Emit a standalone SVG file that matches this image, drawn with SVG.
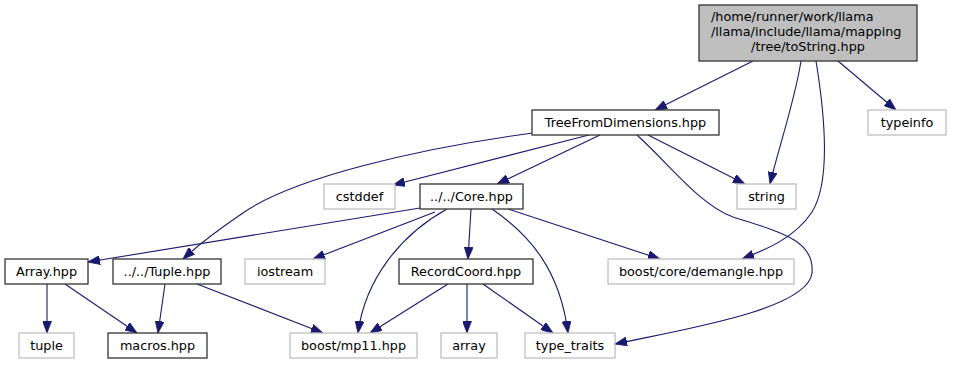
<svg xmlns="http://www.w3.org/2000/svg" width="953" height="365" viewBox="0 0 953 365">
  <style>
    .node rect { fill: #ffffff; stroke: #333333; stroke-width: 1.3; }
    .node.ext rect { stroke: #bfbfbf; }
    .node.root rect { fill: #bfbfbf; stroke: #333333; }
    text { font-family: "DejaVu Sans", "Liberation Sans", sans-serif; font-size: 12.8px; fill: #000000; text-anchor: middle; }
    .edges path { fill: none; stroke: #191970; stroke-width: 1.1; marker-end: url(#arrow); }
  </style>
  <defs>
    <marker id="arrow" markerUnits="userSpaceOnUse" markerWidth="12" markerHeight="9" refX="12" refY="4.5" orient="auto">
      <path d="M0,0 L12,4.5 L0,9 z" fill="#191970" stroke="#191970" stroke-width="0.8"/>
    </marker>
  </defs>
  <rect width="953" height="365" fill="#ffffff"/>

  <g class="edges">
    <path d="M753,61 L655,110"/>
    <path d="M801,61 C795,100 778,150 770,184"/>
    <path d="M816,61 C824,110 832,180 812,212 C795,238 765,250 742,259"/>
    <path d="M838,61 L896,110"/>
    <path d="M533,133 C420,148 290,178 240,215 C215,232 195,248 183,259"/>
    <path d="M589,135 L393,185"/>
    <path d="M600,135 L497,184"/>
    <path d="M648,135 L745,184"/>
    <path d="M637,135 C670,165 700,205 733,217 C780,232 815,240 812,273 C808,310 680,330 615,344"/>
    <path d="M420,208 L88,262"/>
    <path d="M435,212 L313,259"/>
    <path d="M447,209 C400,235 365,280 358,333"/>
    <path d="M471,209 L468,259"/>
    <path d="M492,209 C530,235 560,270 568,333"/>
    <path d="M508,209 L660,259"/>
    <path d="M448,284 L370,333"/>
    <path d="M467,284 L467,333"/>
    <path d="M483,284 L553,333"/>
    <path d="M47,284 L47,333"/>
    <path d="M65,284 L137,333"/>
    <path d="M165,284 L158,333"/>
    <path d="M197,284 L323,333"/>
  </g>

  <g id="toString" class="node root">
    <rect x="699" y="5" width="218" height="56"/>
    <text x="711" y="21" style="text-anchor:start">/home/runner/work/llama</text>
    <text x="711" y="36" style="text-anchor:start">/llama/include/llama/mapping</text>
    <text x="808" y="50.5">/tree/toString.hpp</text>
  </g>
  <g id="TreeFromDimensions" class="node">
    <rect x="532" y="110" width="187" height="25"/>
    <text x="625.5" y="127">TreeFromDimensions.hpp</text>
  </g>
  <g id="typeinfo" class="node ext">
    <rect x="868" y="110" width="78" height="25"/>
    <text x="907" y="127">typeinfo</text>
  </g>
  <g id="cstddef" class="node ext">
    <rect x="324" y="184" width="71" height="25"/>
    <text x="359.5" y="201">cstddef</text>
  </g>
  <g id="Core" class="node">
    <rect x="420" y="184" width="103" height="25"/>
    <text x="471.5" y="201">../../Core.hpp</text>
  </g>
  <g id="string" class="node ext">
    <rect x="737" y="184" width="59" height="25"/>
    <text x="766.5" y="201">string</text>
  </g>
  <g id="Array" class="node">
    <rect x="5" y="259" width="83" height="25"/>
    <text x="46.5" y="276">Array.hpp</text>
  </g>
  <g id="Tuple" class="node">
    <rect x="113" y="259" width="108" height="25"/>
    <text x="167" y="276">../../Tuple.hpp</text>
  </g>
  <g id="iostream" class="node ext">
    <rect x="245" y="259" width="80" height="25"/>
    <text x="285" y="276">iostream</text>
  </g>
  <g id="RecordCoord" class="node">
    <rect x="399" y="259" width="134" height="25"/>
    <text x="466" y="276">RecordCoord.hpp</text>
  </g>
  <g id="demangle" class="node ext">
    <rect x="608" y="259" width="186" height="25"/>
    <text x="701" y="276">boost/core/demangle.hpp</text>
  </g>
  <g id="tuple" class="node ext">
    <rect x="19" y="333" width="55" height="25"/>
    <text x="46.5" y="350">tuple</text>
  </g>
  <g id="macros" class="node">
    <rect x="108" y="333" width="99" height="25"/>
    <text x="157.5" y="350">macros.hpp</text>
  </g>
  <g id="mp11" class="node ext">
    <rect x="290" y="333" width="127" height="25"/>
    <text x="353.5" y="350">boost/mp11.hpp</text>
  </g>
  <g id="array" class="node ext">
    <rect x="441" y="333" width="56" height="25"/>
    <text x="469" y="350">array</text>
  </g>
  <g id="type_traits" class="node ext">
    <rect x="525" y="333" width="90" height="25"/>
    <text x="570" y="350">type_traits</text>
  </g>
</svg>
